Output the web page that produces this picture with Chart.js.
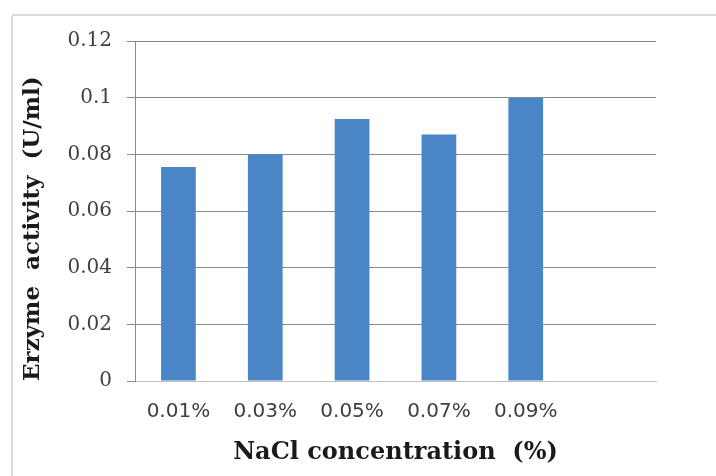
<!DOCTYPE html>
<html>
<head>
<meta charset="utf-8">
<script src="https://cdn.jsdelivr.net/npm/chart.js@4.4.1/dist/chart.umd.min.js"></script>
<style>
  html, body { margin: 0; padding: 0; background: #ffffff; }
  #wrap { position: relative; width: 716px; height: 476px; overflow: hidden; }
  #frame {
    position: absolute; left: 11px; top: 14px; width: 760px; height: 520px;
    border: 2px solid #dcdcdc; border-radius: 3px; box-sizing: border-box;
  }
  #c { position: absolute; left: 0; top: 0; }
</style>
</head>
<body>
<div id="wrap">
  <div id="frame"></div>
  <canvas id="c" width="716" height="476"></canvas>
</div>
<script>
// NaCl concentrations (the last slot is left empty on the axis)
const categories = ['0.01%', '0.03%', '0.05%', '0.07%', '0.09%', ''];
// Enzyme activity, U/ml
const activity = [0.0755, 0.080, 0.0925, 0.087, 0.100, null];
// Value axis labels, bottom to top
const yTickLabels = ['0', '0.02', '0.04', '0.06', '0.08', '0.1', '0.12'];

const yTitle = 'Erzyme  activity  (U/ml)';
const xTitle = 'NaCl concentration  (%)';

const gridGray = '#8a8a8a';

new Chart(document.getElementById('c'), {
  type: 'bar',
  data: {
    labels: categories,
    datasets: [{
      data: activity,
      backgroundColor: '#4a86c6',
      borderWidth: 0,
      categoryPercentage: 1.0,
      barPercentage: 0.4
    }]
  },
  options: {
    responsive: false,
    animation: false,
    layout: { padding: { top: 41, right: 60, left: 0, bottom: 0 } },
    plugins: { legend: { display: false }, tooltip: { enabled: false } },
    scales: {
      x: {
        grid: { display: false, drawTicks: false },
        border: { display: true, color: '#bdbdbd', width: 1 },
        ticks: {
          padding: 19,
          color: '#404040',
          font: { family: 'DejaVu Sans', size: 20 },
          maxRotation: 0,
          autoSkip: false
        },
        title: {
          display: true,
          text: xTitle,
          color: '#1a1a1a',
          font: { family: 'DejaVu Serif', size: 24, weight: 'bold' },
          padding: { top: 0, bottom: 9 }
        },
        afterFit(axis) { axis.height = 95; }
      },
      y: {
        min: 0,
        max: 0.12,
        ticks: {
          stepSize: 0.02,
          padding: 15,
          color: '#404040',
          font: { family: 'DejaVu Serif', size: 20 },
          callback: (v, i) => yTickLabels[i]
        },
        grid: {
          color: (c) => (c.tick && c.tick.value === 0 ? '#bdbdbd' : gridGray),
          tickColor: gridGray,
          lineWidth: 1,
          tickLength: 8,
          drawTicks: true
        },
        border: { display: true, color: gridGray, width: 1 },
        title: {
          display: true,
          text: yTitle,
          align: 'start',
          color: '#1a1a1a',
          font: { family: 'DejaVu Serif', size: 23, weight: 'bold' },
          padding: { top: 19, bottom: 0 }
        },
        afterFit(axis) { axis.width = 135; }
      }
    }
  }
});
</script>
</body>
</html>
